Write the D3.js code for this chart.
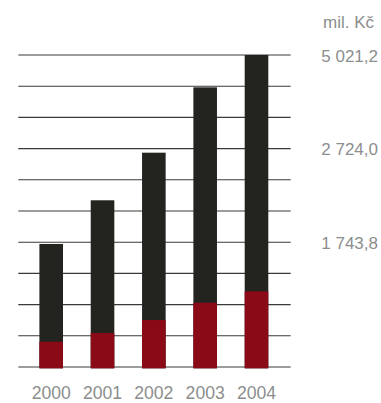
<!DOCTYPE html>
<html>
<head>
<meta charset="utf-8">
<script src="https://cdn.jsdelivr.net/npm/d3@7"></script>
<style>
  html, body { margin: 0; padding: 0; background: #fff; }
  svg { display: block; }
</style>
</head>
<body>
<svg id="chart" width="381" height="403"></svg>
<script>
// ---- data (mil. Kč) ----
const years = ["2000", "2001", "2002", "2003", "2004"];
const totalValues = [1980, 2683, 3449, 4501, 5021.2];
const redValues = [407, 547, 756, 1035, 1218];
const axisMax = 5021.2;
const gridCount = 10;
const tickLabels = ["5 021,2", "2 724,0", "1 743,8"];
const tickGridIndex = [10, 7, 4];
const unitLabel = "mil. Kč";

// ---- layout ----
const svg = d3.select("#chart");
const y = d3.scaleLinear().domain([0, axisMax]).range([367, 55]);
const x = d3.scalePoint().domain(years).range([51.2, 256.5]);
const barW = 23.6;
const gridX0 = 18.3, gridX1 = 290.7;
const textColor = "#8b8e8d";
const font = "'Liberation Sans', Arial, Helvetica, sans-serif";

const gridValues = d3.range(gridCount + 1).map(i => axisMax * i / gridCount);

svg.append("g").selectAll("line")
  .data(gridValues)
  .join("line")
  .attr("x1", gridX0).attr("x2", gridX1)
  .attr("y1", d => y(d)).attr("y2", d => y(d))
  .attr("stroke", "#3a3a38")
  .attr("stroke-width", 1.1);

// dark (total) bars
svg.append("g").selectAll("rect")
  .data(years.map((yr, i) => ({ yr, v: totalValues[i] })))
  .join("rect")
  .attr("x", d => x(d.yr) - barW / 2)
  .attr("width", barW)
  .attr("y", d => y(d.v))
  .attr("height", d => y(0) + 1.3 - y(d.v))
  .attr("fill", "#23241f");

// red bars
svg.append("g").selectAll("rect")
  .data(years.map((yr, i) => ({ yr, v: redValues[i] })))
  .join("rect")
  .attr("x", d => x(d.yr) - barW / 2)
  .attr("width", barW)
  .attr("y", d => y(d.v))
  .attr("height", d => y(0) + 1.3 - y(d.v))
  .attr("fill", "#8b0a17");

// year labels
svg.append("g").selectAll("text")
  .data(years)
  .join("text")
  .attr("x", d => x(d))
  .attr("y", 399.3)
  .attr("text-anchor", "middle")
  .attr("font-family", font)
  .attr("font-size", 17.6)
  .attr("fill", textColor)
  .text(d => d);

// right value labels
svg.append("g").selectAll("text")
  .data(tickLabels.map((t, i) => ({ t, v: axisMax * tickGridIndex[i] / gridCount })))
  .join("text")
  .attr("x", 378)
  .attr("y", d => y(d.v) + 6.5)
  .attr("text-anchor", "end")
  .attr("font-family", font)
  .attr("font-size", 17)
  .attr("fill", textColor)
  .text(d => d.t);

// unit label
svg.append("text")
  .attr("x", 374)
  .attr("y", 28.3)
  .attr("text-anchor", "end")
  .attr("font-family", font)
  .attr("font-size", 17)
  .attr("fill", textColor)
  .text(unitLabel);
</script>
</body>
</html>
